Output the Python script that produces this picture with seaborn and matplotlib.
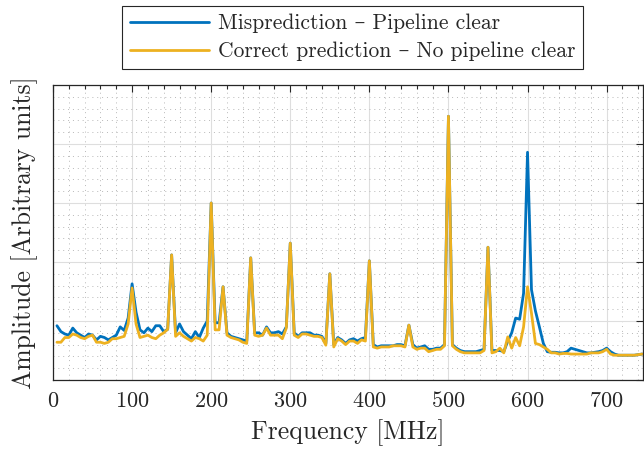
import numpy as np
import pandas as pd
import matplotlib
matplotlib.use('Agg')
import matplotlib.pyplot as plt
from matplotlib.ticker import MultipleLocator, NullFormatter
import seaborn as sns

freq_mhz = list(range(5, 750, 5))

mispredict = [
    0.92, 0.82, 0.78, 0.76, 0.88, 0.80, 0.76, 0.72, 0.78, 0.76,
    0.68, 0.74, 0.72, 0.68, 0.72, 0.76, 0.90, 0.84, 1.05, 1.63,
    1.15, 0.85, 0.80, 0.88, 0.82, 0.92, 0.92, 0.82, 0.86, 2.12,
    0.80, 0.95, 0.82, 0.76, 0.70, 0.82, 0.72, 0.88, 1.00, 3.00,
    0.97, 0.97, 1.58, 0.80, 0.74, 0.72, 0.70, 0.68, 0.66, 2.07,
    0.80, 0.80, 0.76, 0.90, 0.80, 0.80, 0.82, 0.78, 0.90, 2.32,
    0.80, 0.74, 0.80, 0.80, 0.80, 0.76, 0.76, 0.74, 0.62, 1.80,
    0.60, 0.72, 0.68, 0.62, 0.68, 0.70, 0.66, 0.70, 0.72, 2.02,
    0.60, 0.56, 0.58, 0.58, 0.58, 0.58, 0.60, 0.60, 0.58, 0.93,
    0.60, 0.54, 0.56, 0.58, 0.52, 0.52, 0.54, 0.54, 0.60, 4.47,
    0.60, 0.54, 0.50, 0.48, 0.48, 0.48, 0.48, 0.50, 0.52, 2.25,
    0.50, 0.50, 0.50, 0.48, 0.66, 0.80, 1.05, 1.03, 1.47, 3.86,
    1.53, 1.17, 0.90, 0.62, 0.48, 0.47, 0.47, 0.46, 0.46, 0.48,
    0.54, 0.52, 0.50, 0.48, 0.46, 0.46, 0.47, 0.48, 0.50, 0.54,
    0.48, 0.44, 0.42, 0.42, 0.42, 0.42, 0.42, 0.43, 0.44,
]

correct = [
    0.64, 0.64, 0.72, 0.72, 0.78, 0.76, 0.72, 0.70, 0.74, 0.76,
    0.64, 0.64, 0.62, 0.64, 0.70, 0.70, 0.72, 0.74, 0.95, 1.56,
    0.95, 0.72, 0.74, 0.76, 0.72, 0.70, 0.76, 0.80, 0.86, 2.12,
    0.74, 0.80, 0.74, 0.70, 0.66, 0.72, 0.70, 0.66, 0.76, 3.00,
    0.85, 0.85, 1.58, 0.76, 0.72, 0.70, 0.68, 0.64, 0.62, 2.07,
    0.76, 0.74, 0.76, 0.88, 0.76, 0.76, 0.76, 0.70, 0.88, 2.32,
    0.76, 0.72, 0.78, 0.78, 0.76, 0.74, 0.74, 0.72, 0.59, 1.80,
    0.56, 0.70, 0.66, 0.60, 0.66, 0.66, 0.62, 0.68, 0.66, 2.02,
    0.56, 0.54, 0.56, 0.56, 0.56, 0.58, 0.58, 0.58, 0.56, 0.93,
    0.56, 0.52, 0.54, 0.54, 0.48, 0.50, 0.52, 0.52, 0.58, 4.47,
    0.58, 0.52, 0.48, 0.46, 0.46, 0.46, 0.46, 0.46, 0.50, 2.25,
    0.46, 0.48, 0.54, 0.46, 0.73, 0.54, 0.72, 0.58, 0.90, 1.58,
    1.13, 0.62, 0.60, 0.56, 0.52, 0.46, 0.46, 0.44, 0.45, 0.45,
    0.44, 0.44, 0.44, 0.44, 0.44, 0.46, 0.46, 0.46, 0.48, 0.52,
    0.44, 0.42, 0.42, 0.42, 0.42, 0.42, 0.42, 0.43, 0.44,
]

series_names = ['Misprediction – Pipeline clear',
                'Correct prediction – No pipeline clear']
colors = ['#0072BD', '#EDB120']
x_ticks = [0, 100, 200, 300, 400, 500, 600, 700]

df = pd.DataFrame({
    'freq': freq_mhz * 2,
    'amp': mispredict + correct,
    'series': [series_names[0]] * len(freq_mhz) + [series_names[1]] * len(freq_mhz),
})

sns.set_theme(style='white')
plt.rcParams['font.family'] = ['cmr10', 'DejaVu Serif']
plt.rcParams['mathtext.fontset'] = 'cm'
plt.rcParams['axes.formatter.use_mathtext'] = True

fig = plt.figure(figsize=(6.44, 4.5), dpi=100)
ax = fig.add_axes([53 / 644, 70 / 450, 590 / 644, 295 / 450])

sns.lineplot(data=df, x='freq', y='amp', hue='series', hue_order=series_names,
             palette=colors, linewidth=2, ax=ax)

ax.set_xlim(0, 746)
ax.set_ylim(0, 5)
ax.set_xticks(x_ticks)
ax.xaxis.set_minor_locator(MultipleLocator(20))
ax.yaxis.set_major_locator(MultipleLocator(1))
ax.yaxis.set_minor_locator(MultipleLocator(0.2))
ax.yaxis.set_major_formatter(NullFormatter())

ax.grid(which='major', color='#dedede', linewidth=0.8)
ax.grid(which='minor', color='#b8b8b8', linewidth=0.7, linestyle=(0, (1, 4)))
ax.set_axisbelow(True)

for s in ax.spines.values():
    s.set_color('#262626')
    s.set_linewidth(0.9)
ax.tick_params(which='both', direction='in', top=True, right=True,
               color='#262626', width=0.8)
ax.tick_params(which='major', length=5, labelsize=16, pad=8, labelcolor='#262626')
ax.tick_params(axis='x', which='minor', length=3)
ax.tick_params(axis='y', which='minor', length=0)

ax.set_xlabel('Frequency [MHz]', fontsize=18.5, color='#262626', labelpad=6)
ax.set_ylabel('Amplitude [Arbitrary units]', fontsize=18.5, color='#262626', labelpad=3)

handles, labels = ax.get_legend_handles_labels()
ax.get_legend().remove()
leg = fig.legend(handles, labels, loc='upper left',
                 bbox_to_anchor=(122 / 644, 1 - 6 / 450), fontsize=15.5,
                 frameon=True, fancybox=False, edgecolor='#262626', framealpha=1,
                 handlelength=3.7, handletextpad=0.4, borderpad=0.35,
                 labelspacing=0.4, borderaxespad=0)
leg.get_frame().set_linewidth(0.8)

fig.savefig('out.png', dpi=100)
